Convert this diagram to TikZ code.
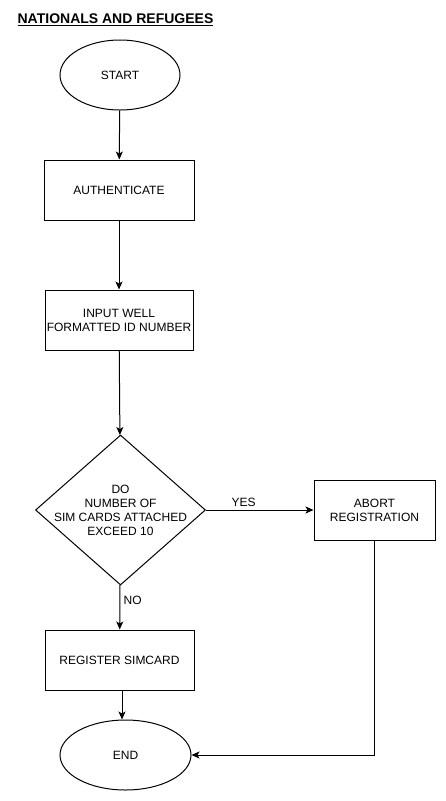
\documentclass[tikz,border=0pt]{standalone}
\usepackage{fontspec}
\setmainfont{Liberation Sans}
\usetikzlibrary{arrows,arrows.meta,shapes,positioning}
\tikzset{
  stepbox/.style  = {shape=rectangle, draw, align=center, inner sep=0pt,
                     minimum width=150pt, minimum height=60pt},
  terminal/.style = {shape=ellipse, draw, inner sep=0pt,
                     minimum width=120pt, minimum height=70pt},
  decision/.style = {shape=diamond, draw, inner sep=0pt,
                     minimum width=170pt, minimum height=150pt},
}

\begin{document}
\begin{tikzpicture}[
        x                 = 1pt,
        y                 = -1pt,
        line width        = 1pt,
        every node/.style = {font=\fontsize{12}{14}\selectfont},
        flow/.style       = {draw, -{Stealth[length=8pt, width=7pt, inset=2pt]}}
    ]
    \useasboundingbox (0,0) rectangle (445,801);
    \node (title) at (115.5,20) {\fontsize{14}{16}\selectfont\bfseries\underline{NATIONALS AND REFUGEES}};
    \node [terminal] (start) at (120,75) {START};
    \node [stepbox] (auth) at (119,190) {AUTHENTICATE};
    \node [stepbox, minimum width=148pt] (input) at (119,320) {INPUT WELL\\FORMATTED ID NUMBER};
    \node [decision] (check) at (120.5,510) {};
    \node [align=center] (checktext) at (check) {DO\\NUMBER OF\\SIM CARDS ATTACHED\\EXCEED 10};
    \node [stepbox, minimum width=121pt] (abort) at (374.5,510) {ABORT\\REGISTRATION};
    \node [stepbox, minimum width=149pt] (register) at (119.5,660) {REGISTER SIMCARD};
    \node [terminal, minimum width=131pt] (end) at (125.5,755) {END};

    \draw [flow] (start) -- (auth);
    \draw [flow] (auth) -- (input);
    \draw [flow] (input) -- (check);
    \draw [flow] (check) -- node [anchor=west, pos=0.35] {NO} (register);
    \draw [flow] (check) -- node [anchor=south, pos=0.35] {YES} (abort);
    \draw [flow] ([xshift=2.5pt]register.south) -- ([xshift=2.5pt]register.south |- end.north);
    \draw [flow] (abort) |- (end);
\end{tikzpicture}
\end{document}
